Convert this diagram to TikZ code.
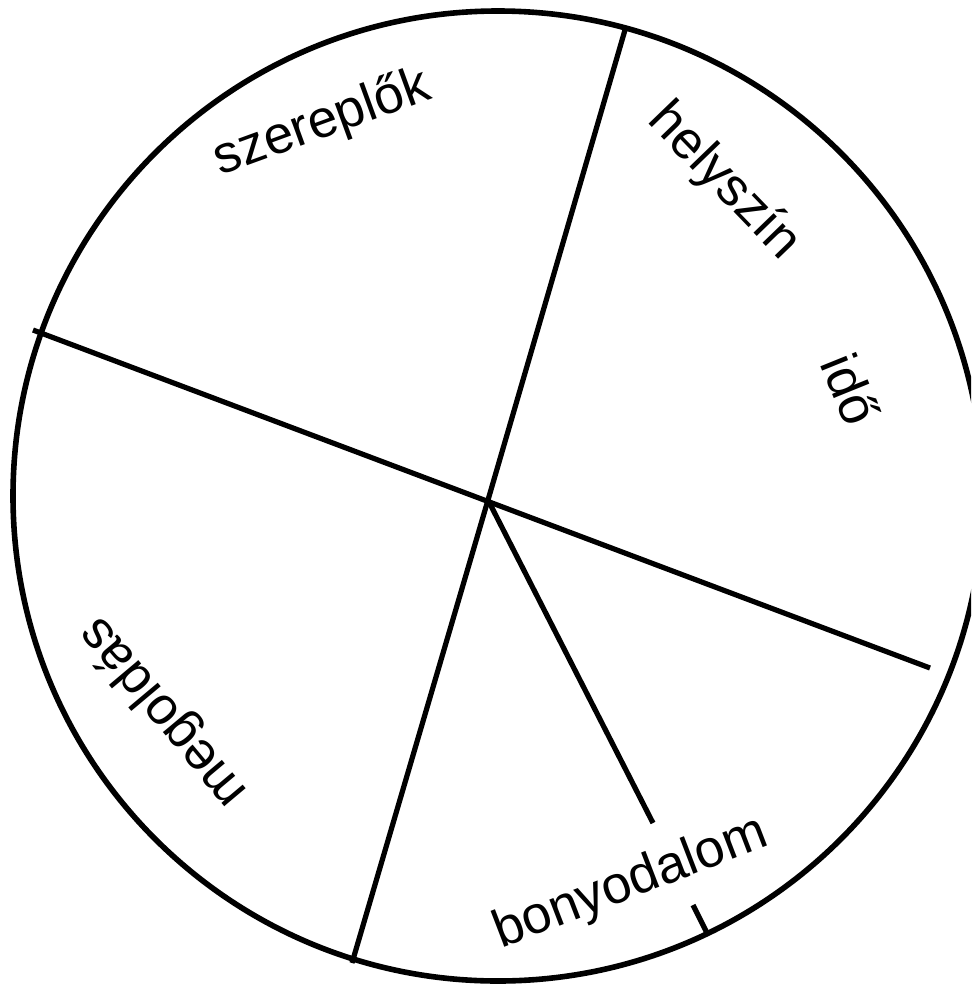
\documentclass[tikz,border=0pt]{standalone}
\usepackage{fontspec}
\setmainfont{Liberation Sans}
\usetikzlibrary{positioning}
\definecolor{ink}{HTML}{000000}

\begin{document}
\begin{tikzpicture}[x=0.5pt,y=-0.5pt,
    word/.style={font=\fontsize{26.5}{30}\selectfont, inner sep=0pt, color=ink},
    rim/.style={ink, line width=2.8pt},
    spoke/.style={ink, line width=2.6pt}]
  \useasboundingbox (0,0) rectangle (971,986);
  \clip (0,0) rectangle (971,986);
  % wheel
  \coordinate (mid) at (498,496);
  \draw[rim] (mid) circle [radius=485];
  % spokes
  \coordinate (hub)  at (488,500);
  \coordinate (top)  at (625,30);
  \coordinate (bot)  at (352,963);
  \coordinate (west) at (33,330);
  \coordinate (east) at (930,668);
  \coordinate (cut)  at (653,823);
  \coordinate (tickA) at (693,905);
  \coordinate (tickB) at (708,935);
  \draw[spoke] (hub) -- (top);
  \draw[spoke] (hub) -- (bot);
  \draw[spoke] (west) -- (east);
  \draw[spoke] (hub) -- (cut);
  \draw[spoke] (tickA) -- (tickB);
  % sector labels
  \node[word, rotate=20]  (actors) at (322,124) {szereplők};
  \node[word, rotate=-46] (place)  at (724,182) {helyszín};
  \node[word, rotate=-68] (time)   at (851,389) {idő};
  \node[word, rotate=130] (ending) at (164,712) {megoldás};
  \node[word, rotate=21]  (plot)   at (631,884) {bonyodalom};
\end{tikzpicture}
\end{document}
